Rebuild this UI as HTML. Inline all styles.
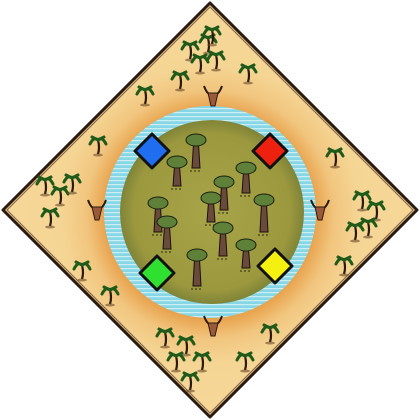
<!DOCTYPE html>
<html><head><meta charset="utf-8"><style>
html,body{margin:0;padding:0;background:#fff;width:420px;height:420px;overflow:hidden}
</style></head><body>
<svg id="map" width="420" height="420" viewBox="0 0 420 420" xmlns="http://www.w3.org/2000/svg">
<defs>
<radialGradient id="sand" cx="50%" cy="51%" r="60%">
<stop offset="0.42" stop-color="#e8a24c"/><stop offset="0.5" stop-color="#f1c57e"/><stop offset="0.6" stop-color="#f5d594"/><stop offset="1" stop-color="#f6da9c"/>
</radialGradient>
<radialGradient id="grass" cx="50%" cy="50%" r="50%">
<stop offset="0" stop-color="#a8a448"/><stop offset="0.85" stop-color="#9c983e"/><stop offset="1" stop-color="#7f8438"/>
</radialGradient>
<pattern id="waves" width="6" height="4" patternUnits="userSpaceOnUse">
<rect width="6" height="4" fill="#86d6e6"/><rect y="0" width="6" height="1.3" fill="#c8eef4"/>
</pattern>
</defs>
<polygon points="210,3 417,210 210,417 3,210" fill="url(#sand)" stroke="#2a1a10" stroke-width="3" stroke-linejoin="round"/>
<polygon points="210,7 413,210 210,413 7,210" fill="none" stroke="#8a6a4a" stroke-width="1.2"/>
<circle cx="210" cy="212" r="106" fill="url(#waves)"/>
<circle cx="212" cy="212" r="92" fill="url(#grass)"/>
<g id="trees"></g>
<g id="palms"></g>
<g id="animals"></g>
<g id="players"></g>
</svg>
<script>
const NS='http://www.w3.org/2000/svg';
function mk(t,a,p){const e=document.createElementNS(NS,t);for(const k in a)e.setAttribute(k,a[k]);p.appendChild(e);return e;}
const baobabs=[[196,140,168],[177,162,186],[246,168,193],[224,182,210],[211,198,222],[158,203,232],[167,222,249],[223,228,256],[264,200,232],[246,245,268],[197,255,286]];
const tg=document.getElementById('trees');
baobabs.forEach(b=>{
 const g=mk('g',{},tg);
 
 
 mk('path',{d:`M${b[0]-4},${b[2]} L${b[0]-2.5},${b[1]+4} L${b[0]+2.5},${b[1]+4} L${b[0]+4},${b[2]} Z`,fill:'#6a4a3a',stroke:'#1a1010','stroke-width':1},g);
 mk('ellipse',{cx:b[0],cy:b[1],rx:10,ry:6,fill:'#5e8038',stroke:'#1a2010','stroke-width':1},g);
 mk('line',{x1:b[0]-6,y1:b[2]+3,x2:b[0]+6,y2:b[2]+3,stroke:'#2a2a10','stroke-width':1,'stroke-dasharray':'2 2'},g);
});
const palms=[[190,45],[208,38],[216,55],[200,58],[212,30],[180,75],[248,68],[145,90],[98,140],[45,180],[60,190],[72,178],[50,212],[82,265],[110,290],[335,152],[362,195],[376,205],[368,222],[355,226],[344,260],[270,328],[165,332],[186,340],[176,356],[202,356],[190,376],[245,356]];
const pg=document.getElementById('palms');
palms.forEach(p=>{
 const g=mk('g',{},pg);
 
 
 mk('path',{d:`M${p[0]},${p[1]} Q${p[0]+2},${p[1]+8} ${p[0]},${p[1]+14}`,stroke:'#2a1a10','stroke-width':2.2,fill:'none'},g);
 mk('path',{d:`M${p[0]-8},${p[1]+4} Q${p[0]-4},${p[1]-4} ${p[0]},${p[1]} Q${p[0]+4},${p[1]-4} ${p[0]+8},${p[1]+4} M${p[0]},${p[1]} L${p[0]-6},${p[1]-3} M${p[0]},${p[1]} L${p[0]+6},${p[1]-3}`,stroke:'#1f5a1a','stroke-width':3,fill:'none','stroke-linecap':'round'},g);
 mk('ellipse',{cx:p[0],cy:p[1]+15,rx:5,ry:1.5,fill:'#6a4a2a',opacity:0.6},g);
});
const animals=[[213,96],[97,210],[320,210],[213,326]];
const ag=document.getElementById('animals');
animals.forEach(a=>{
 const g=mk('g',{},ag);
 
 
 mk('path',{d:`M${a[0]-9},${a[1]-10} Q${a[0]-6},${a[1]-2} ${a[0]-3},${a[1]-2} M${a[0]+9},${a[1]-10} Q${a[0]+6},${a[1]-2} ${a[0]+3},${a[1]-2}`,stroke:'#2a1a10','stroke-width':2,fill:'none'},g);
 mk('path',{d:`M${a[0]-5},${a[1]-3} L${a[0]+5},${a[1]-3} L${a[0]+2},${a[1]+10} L${a[0]-2},${a[1]+10} Z`,fill:'#9a5a3a',stroke:'#2a1a10','stroke-width':1},g);
});
const players=[['blue',152,151,'#1f6ef0'],['red',270,151,'#ee2010'],['green',157,273,'#30e030'],['yellow',275,266,'#f4f010']];
const plg=document.getElementById('players');
players.forEach(p=>{
 const r=mk('polygon',{points:`${p[1]},${p[2]-17} ${p[1]+17},${p[2]} ${p[1]},${p[2]+17} ${p[1]-17},${p[2]}`,fill:p[3],stroke:'#111','stroke-width':3,'stroke-linejoin':'round'},plg);
 
 
});
</script>
</body></html>
